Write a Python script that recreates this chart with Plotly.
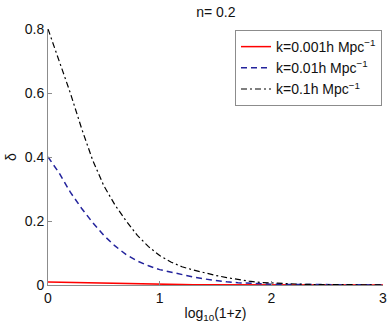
import plotly.graph_objects as go

# log10(1+z) grid
log1pz = [round(0.1 * i, 1) for i in range(31)]

# delta for each k
delta_k0001 = [0.009, 0.0082, 0.0074, 0.0066, 0.0058, 0.005, 0.0043, 0.0036, 0.003, 0.0025,
               0.002, 0.0016, 0.0013, 0.001, 0.0008, 0.0006, 0.0005, 0.0004, 0.0003, 0.0002,
               0.0002, 0.0002, 0.0001, 0.0001, 0.0001, 0.0001, 0.0001, 0.0001, 0.0001, 0.0001, 0.0001]
delta_k001 = [0.40, 0.35, 0.29, 0.24, 0.195, 0.155, 0.122, 0.095, 0.075, 0.060,
              0.048, 0.040, 0.032, 0.025, 0.019, 0.014, 0.010, 0.007, 0.005, 0.0035,
              0.0025, 0.002, 0.0015, 0.001, 0.001, 0.0008, 0.0006, 0.0005, 0.0004, 0.0003, 0.0003]
delta_k01 = [0.80, 0.70, 0.60, 0.49, 0.39, 0.31, 0.25, 0.20, 0.155, 0.12,
             0.092, 0.072, 0.057, 0.047, 0.038, 0.030, 0.023, 0.017, 0.012, 0.008,
             0.006, 0.004, 0.003, 0.002, 0.0015, 0.001, 0.001, 0.0008, 0.0006, 0.0005, 0.0004]

series_names = ["k=0.001h Mpc<sup>−1</sup>", "k=0.01h Mpc<sup>−1</sup>", "k=0.1h Mpc<sup>−1</sup>"]
y_ticks = [0, 0.2, 0.4, 0.6, 0.8]
y_ticktext = ["0", "0.2", "0.4", "0.6", "0.8"]
x_ticks = [0, 1, 2, 3]
x_ticktext = ["0", "1", "2", "3"]

fig = go.Figure()
fig.add_trace(go.Scatter(x=log1pz, y=delta_k0001, mode="lines", name=series_names[0],
                         line=dict(color="#ff0000", width=1.5)))
fig.add_trace(go.Scatter(x=log1pz, y=delta_k001, mode="lines", name=series_names[1],
                         line=dict(color="#23239c", width=1.5, dash="6px,4px")))
fig.add_trace(go.Scatter(x=log1pz, y=delta_k01, mode="lines", name=series_names[2],
                         line=dict(color="#000000", width=1.2, dash="6px,3px,2px,3px")))

axis_common = dict(
    showgrid=False, zeroline=False, showline=True, linecolor="#8c8c8c", linewidth=1,
    ticks="inside", ticklen=4, tickcolor="#8c8c8c", mirror=False, automargin=False,
    tickfont=dict(size=14, color="#111111"),
)
fig.update_xaxes(range=[0, 3], tickmode="array", tickvals=x_ticks, ticktext=x_ticktext,
                 title=dict(text="log<sub>10</sub>(1+z)", standoff=3,
                            font=dict(size=14, color="#111111")), **axis_common)
fig.update_yaxes(range=[0, 0.8], tickmode="array", tickvals=y_ticks, ticktext=y_ticktext,
                 title=dict(text="δ", standoff=4, font=dict(size=14, color="#111111")), **axis_common)

fig.update_layout(
    template="none",
    width=389, height=327,
    margin=dict(l=48, r=6, t=29, b=42),
    paper_bgcolor="white", plot_bgcolor="white",
    font=dict(family="Liberation Sans, Arial, sans-serif", size=14, color="#111111"),
    title=dict(text="n= 0.2", x=0.555, xanchor="center", y=0.963, yanchor="middle",
               font=dict(size=14, color="#111111")),
    legend=dict(x=0.997, xanchor="right", y=0.996, yanchor="top",
                bordercolor="#8c8c8c", borderwidth=1, bgcolor="white",
                font=dict(size=14), tracegroupgap=0, itemwidth=30),
    showlegend=True,
)

# page body has a default 8px margin, which shifts the figure in a 389px window
fig.write_html("out.html", config={"displayModeBar": False},
               post_script="document.body.style.margin='0px';")
